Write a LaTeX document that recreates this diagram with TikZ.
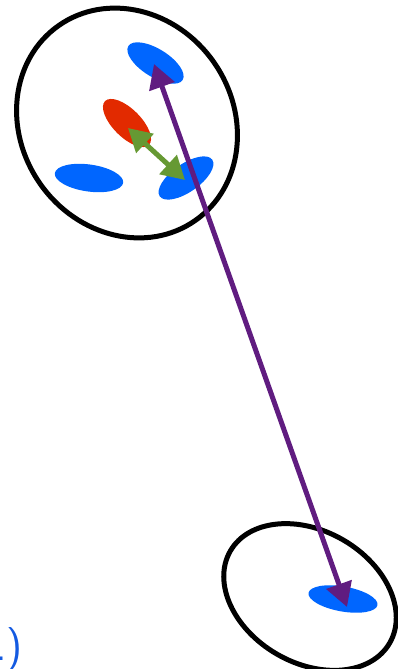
\documentclass[tikz,border=0pt]{standalone}
\usepackage{fontspec}
\usetikzlibrary{shapes.geometric,arrows.meta}
\definecolor{cblue}{RGB}{0,102,255}
\definecolor{cred}{RGB}{226,42,0}
\definecolor{cgreen}{RGB}{102,153,51}
\definecolor{cpurple}{RGB}{96,28,128}
\definecolor{ctext}{RGB}{20,90,225}
\tikzset{
  group/.style={ellipse,draw=black,line width=5pt,inner sep=0pt},
  blob/.style={ellipse,fill=#1,draw=none,inner sep=0pt},
  linkarrow/.style={draw=cpurple,line width=5pt,{Triangle[length=24pt,width=26pt]}-{Triangle[length=24pt,width=26pt]}},
  innerarrow/.style={draw=cgreen,line width=5pt,{Triangle[length=23pt,width=25pt]}-{Triangle[length=23pt,width=25pt]}}
}
\begin{document}
\begin{tikzpicture}[x=1pt,y=-1pt]
\useasboundingbox (0,0) rectangle (397,669);
\node[group,minimum width=238pt,minimum height=212pt,rotate=-55] (g1) at (127,123) {};
\node[group,minimum width=184pt,minimum height=132pt,rotate=-30] (g2) at (310,597) {};
\node[blob=cblue,minimum width=64pt,minimum height=28pt,rotate=-32] (b1) at (155.5,63) {};
\node[blob=cred,minimum width=62pt,minimum height=28pt,rotate=-45] (r1) at (127,123) {};
\node[blob=cblue,minimum width=69pt,minimum height=27pt,rotate=-8] (b2) at (89,178) {};
\node[blob=cblue,minimum width=64pt,minimum height=28pt,rotate=35] (b3) at (186,178) {};
\node[blob=cblue,minimum width=70pt,minimum height=25pt,rotate=-10] (b4) at (343,599) {};
\coordinate (p1) at (154,64);
\coordinate (p2) at (347,607);
\coordinate (q1) at (128,128);
\coordinate (q2) at (185,180);
\draw[linkarrow] (p1) -- (p2);
\draw[innerarrow] (q1) -- (q2);
\node[anchor=base east,inner sep=0pt,text=ctext,font=\fontsize{44}{44}\selectfont\sffamily] (t) at (23,660) {.)};
\end{tikzpicture}
\end{document}
